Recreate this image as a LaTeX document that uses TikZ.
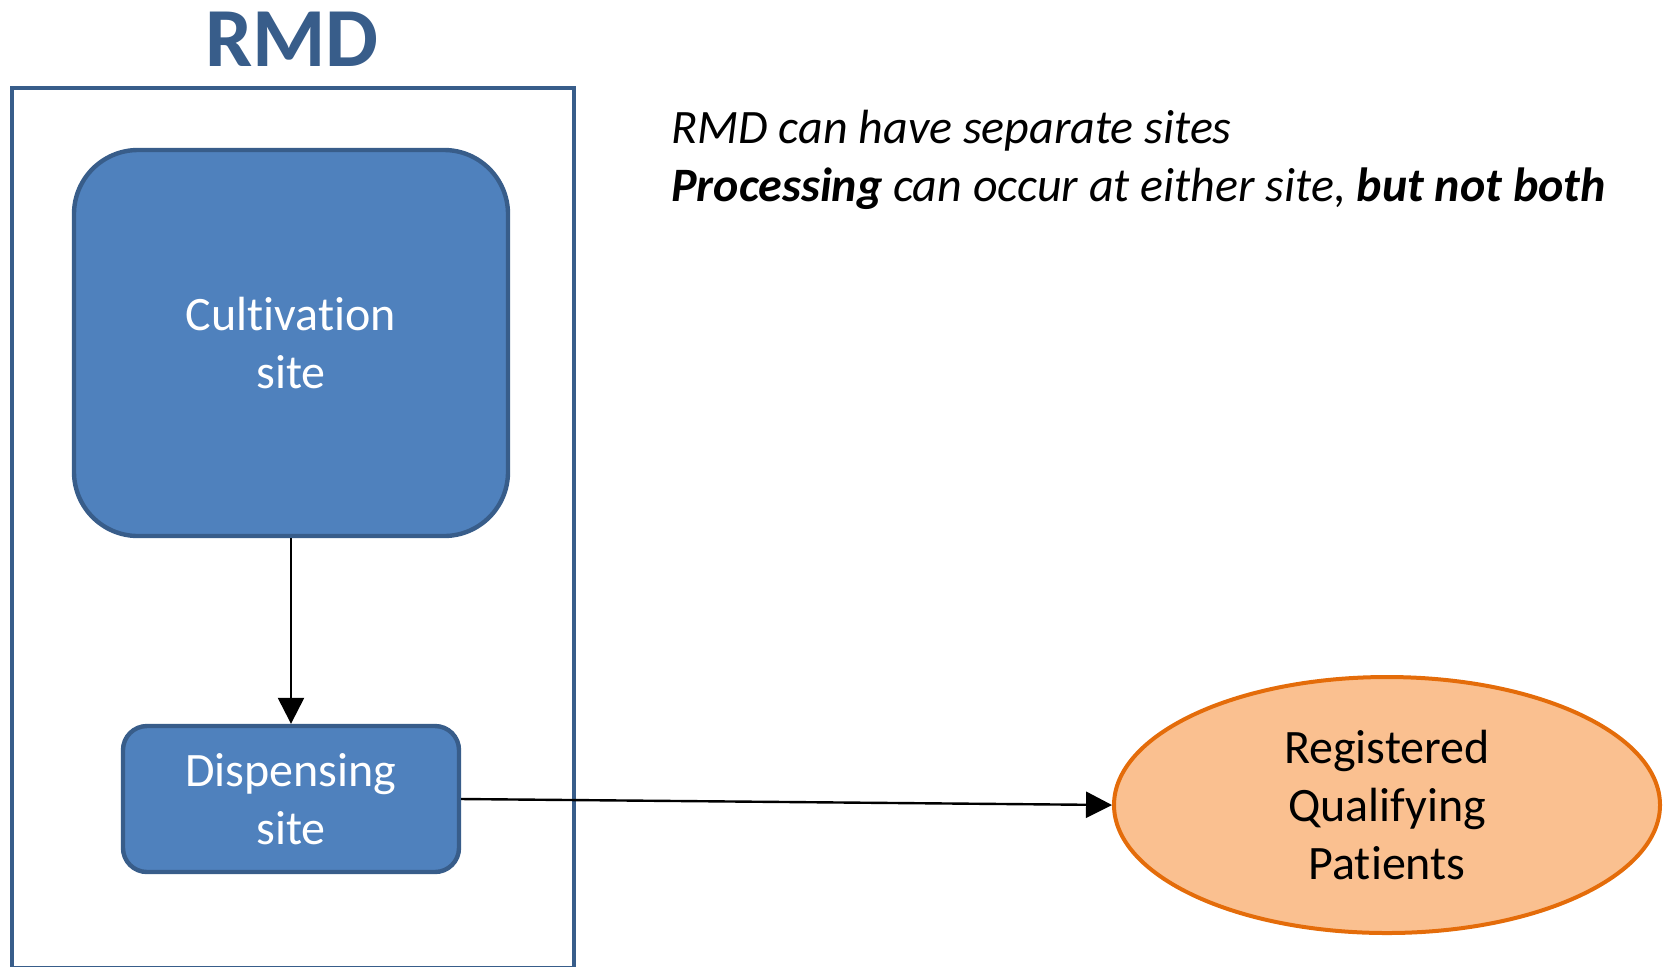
\documentclass[tikz,border=0pt]{standalone}
\usepackage{fontspec}
\setmainfont[Ligatures=NoCommon]{Carlito}
\usetikzlibrary{shapes.geometric,arrows.meta}
\definecolor{boxfill}{HTML}{4F81BD}
\definecolor{boxline}{HTML}{385D8A}
\definecolor{ellfill}{HTML}{FAC090}
\definecolor{ellline}{HTML}{E46C0A}
\tikzset{
  site/.style={draw=boxline, fill=boxfill, line width=2.2pt, text=white,
    align=center, font=\fontsize{24}{29}\selectfont, inner sep=0pt},
  conn/.style={draw=black, line width=1.2pt, -{Triangle[length=13pt,width=13pt]}},
  note/.style={anchor=base west, inner sep=0pt, font=\fontsize{24}{29}\selectfont\itshape}
}
\begin{document}
\begin{tikzpicture}[x=0.5pt,y=-0.5pt]
\useasboundingbox (0,0) rectangle (1663,966);
\node[anchor=base, inner sep=0pt, text=boxline, font=\fontsize{42}{50}\selectfont\bfseries] (title) at (292,66) {RMD};
\node[draw=boxline, line width=2.2pt, minimum width=281pt, minimum height=440pt, inner sep=0pt, anchor=north west] (rmdbox) at (9.5,86) {};
\node[site, minimum width=217pt, minimum height=193pt, rounded corners=32pt] (cult) at (291,343) {Cultivation\\site};
\node[site, minimum width=168pt, minimum height=73pt, rounded corners=12pt] (disp) at (291,799) {Dispensing\\site};
\node[ellipse, draw=ellline, fill=ellfill, line width=2pt, minimum width=273pt, minimum height=128pt, inner sep=0pt, align=center, font=\fontsize{24}{29}\selectfont] (pat) at (1387,805) {Registered\\Qualifying\\Patients};
\node[note] (n1) at (671,143) {RMD can have separate sites};
\node[note] (n2) at (671,201) {\textbf{Processing} can occur at either site, \textbf{but not both}};
\draw[conn] (cult.south) -- (disp.north);
\draw[conn] (disp.east) -- (pat.west);
\end{tikzpicture}
\end{document}
